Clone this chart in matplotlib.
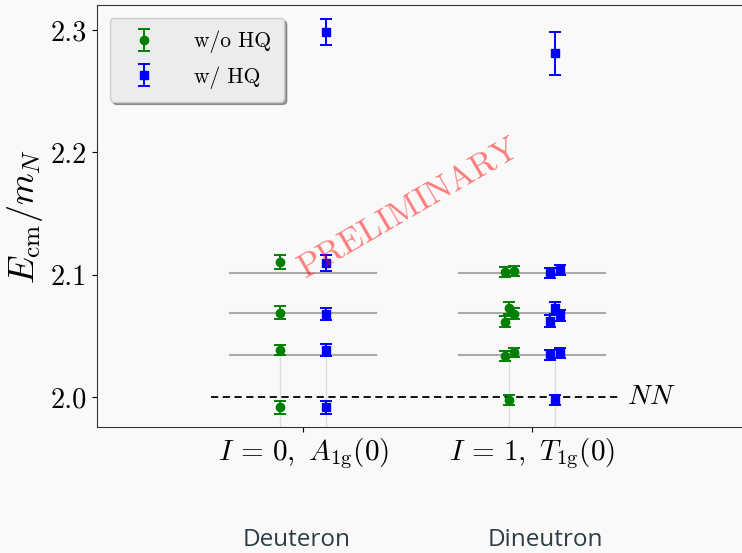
import matplotlib
matplotlib.use("Agg")
import matplotlib.pyplot as plt
import numpy as np

plt.rcParams["font.family"] = "serif"
plt.rcParams["font.serif"] = ["cmr10"]
plt.rcParams["mathtext.fontset"] = "cm"
plt.rcParams["axes.formatter.use_mathtext"] = True
plt.rcParams["axes.unicode_minus"] = False

# Channels
channels = [r"$I\,=\,0,\ A_{1\rm g}(0)$", r"$I\,=\,1,\ T_{1\rm g}(0)$"]
systems = ["Deuteron", "Dineutron"]

# Non-interacting NN levels (E_cm / m_N)
free_levels = [2.0343, 2.0684, 2.1016]
threshold = 2.0

# Deuteron channel, without / with HQ
deut_wo_E = [1.9916, 2.0384, 2.0690, 2.1106]
deut_wo_err = [0.0054, 0.0044, 0.0050, 0.0058]
deut_w_E = [1.9916, 2.0384, 2.0679, 2.1093, 2.2982]
deut_w_err = [0.0052, 0.0048, 0.0052, 0.0064, 0.0106]

# Dineutron channel, without / with HQ
dineu_wo_E = [1.9975, 2.0338, 2.0365, 2.0616, 2.0725, 2.0679, 2.1019, 2.1030]
dineu_wo_err = [0.0040, 0.0040, 0.0038, 0.0045, 0.0050, 0.0045, 0.0040, 0.0040]
dineu_w_E = [1.9975, 2.0343, 2.0357, 2.0621, 2.0725, 2.0670, 2.1016, 2.1038, 2.2810]
dineu_w_err = [0.0040, 0.0042, 0.0040, 0.0045, 0.0050, 0.0045, 0.0040, 0.0040, 0.0174]

# horizontal placement of points within each channel
deut_wo_dx = [-0.10, -0.10, -0.10, -0.10]
deut_w_dx = [0.10, 0.10, 0.10, 0.10, 0.10]
dineu_wo_dx = [-0.10, -0.12, -0.08, -0.12, -0.10, -0.08, -0.12, -0.08]
dineu_w_dx = [0.10, 0.08, 0.12, 0.08, 0.10, 0.12, 0.08, 0.12, 0.10]

bg = "#f9f9f9"
fig = plt.figure(figsize=(7.42, 5.53), dpi=100, facecolor=bg)
ax = fig.add_axes([0.1307, 0.228, 0.872, 0.763], facecolor=bg)

xpos = np.arange(len(channels))

# guide lines
for xc in xpos:
    for lv in free_levels:
        ax.plot([xc - 0.32, xc + 0.32], [lv, lv], color="#aaaaaa", lw=1.5, zorder=1)
    for dx in (-0.1, 0.1):
        ax.plot([xc + dx, xc + dx], [1.9, free_levels[0]], color="#dddddd", lw=1.0, zorder=0)

ax.plot([-0.4, 1.39], [threshold, threshold], ls="--", color="black", lw=1.3,
        dashes=(4, 2.5), zorder=2)
ax.text(1.415, threshold, r"$NN$", fontsize=20, va="center", ha="left")

ekw = dict(capsize=4.5, elinewidth=1.4, capthick=1.4, ls="none", zorder=3)
ax.errorbar(xpos[0] + np.array(deut_wo_dx), deut_wo_E, yerr=deut_wo_err,
            fmt="o", color="green", ms=6, label="w/o HQ", **ekw)
ax.errorbar(xpos[0] + np.array(deut_w_dx), deut_w_E, yerr=deut_w_err,
            fmt="s", color="blue", ms=6, label="w/ HQ", **ekw)
ax.errorbar(xpos[1] + np.array(dineu_wo_dx), dineu_wo_E, yerr=dineu_wo_err,
            fmt="o", color="green", ms=6, **ekw)
ax.errorbar(xpos[1] + np.array(dineu_w_dx), dineu_w_E, yerr=dineu_w_err,
            fmt="s", color="blue", ms=6, **ekw)

ax.text(0.465, 2.154, "PRELIMINARY", rotation=30, color="red", alpha=0.5,
        fontsize=24.5, ha="center", va="center", zorder=10)

ax.set_xlim(-0.9, 1.925)
ax.set_ylim(1.9755, 2.3205)
ax.set_xticks(xpos)
ax.set_xticklabels(channels, fontsize=21)
ax.set_yticks([2.0, 2.1, 2.2, 2.3])
ax.set_yticklabels(["2.0", "2.1", "2.2", "2.3"])
ax.tick_params(axis="y", labelsize=20.5)
ax.set_ylabel(r"$E_{\rm cm}/m_N$", fontsize=26, labelpad=4)
for s in ax.spines.values():
    s.set_color("#333333")

leg = ax.legend(loc="upper left", fontsize=15.5, shadow=True, fancybox=True,
                facecolor="#ececec", edgecolor="#cccccc", framealpha=1,
                handletextpad=1.3, borderpad=0.6, labelspacing=0.6,
                borderaxespad=0.6)

fig.text(297 / 742, 1 - 540 / 553, systems[0], family="Open Sans", fontsize=17.5,
         color="#2d3d45", ha="center", va="center")
fig.text(545 / 742, 1 - 540 / 553, systems[1], family="Open Sans", fontsize=17.5,
         color="#2d3d45", ha="center", va="center")

fig.savefig("out.png", dpi=100, facecolor=bg)
